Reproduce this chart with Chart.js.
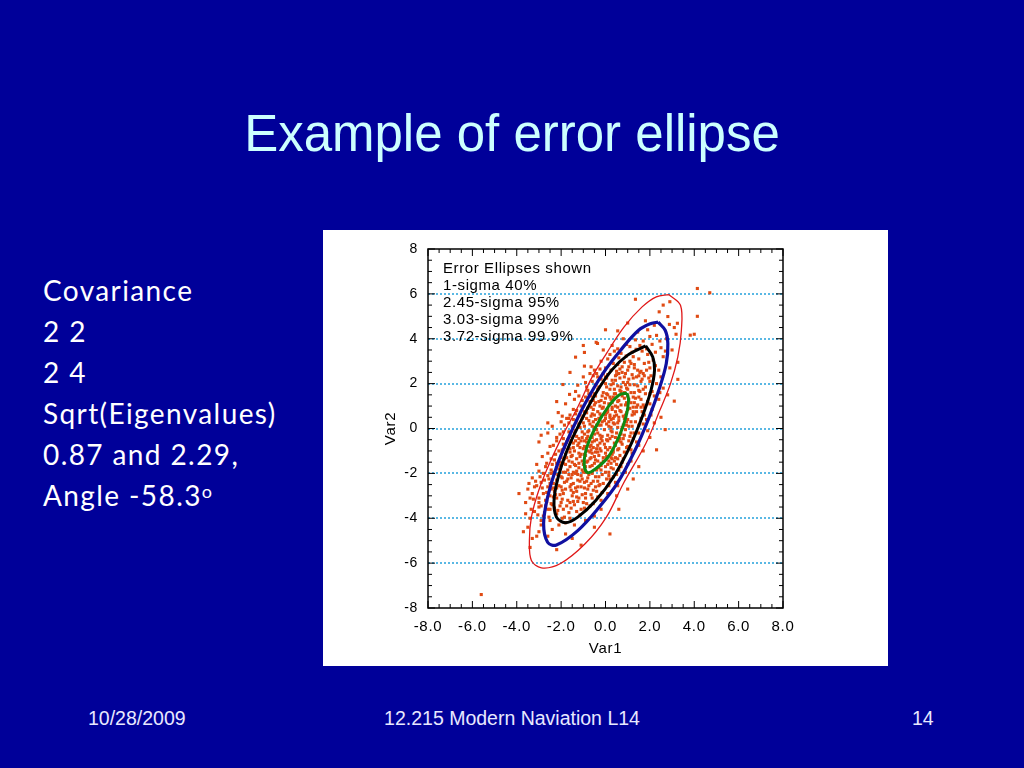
<!DOCTYPE html>
<html>
<head>
<meta charset="utf-8">
<script src="https://cdn.jsdelivr.net/npm/chart.js@4/dist/chart.umd.min.js"></script>
<style>
  html, body { margin:0; padding:0; }
  body { width:1024px; height:768px; background:#000099; position:relative; overflow:hidden; font-family:"Liberation Sans", Arial, sans-serif; }
  #title { position:absolute; left:0; top:104px; width:1024px; text-align:center; color:#CCFFFF; font-size:51px; line-height:60px; }
  #side { position:absolute; left:43px; top:270px; color:#FFFFFF; font-family:Lato, "Open Sans", sans-serif; font-size:28px; letter-spacing:1.4px; line-height:41px; }
  #side sup { font-size:18px; vertical-align:top; position:relative; top:-4px; letter-spacing:0; }
  #panel { position:absolute; left:323px; top:230px; width:565px; height:436px; background:#FFFFFF; }
  .foot { position:absolute; top:706px; color:#E8E8FF; font-size:19.5px; line-height:24px; }
</style>
</head>
<body>
<div id="title">Example of error ellipse</div>
<div id="side">Covariance<br>2 2<br>2 4<br>Sqrt(Eigenvalues)<br>0.87 and 2.29,<br>Angle -58.3<sup>o</sup></div>
<div id="panel"><canvas id="c"></canvas></div>
<div class="foot" style="left:88px;">10/28/2009</div>
<div class="foot" style="left:0; width:1024px; text-align:center;">12.215 Modern Naviation L14</div>
<div class="foot" style="left:912px;">14</div>
<script>
// ---- data (Var1, Var2) ----
const samplePoints = [
  [-5.6,-7.4],[-3.4,-5.3],[-3.3,-4.9],[-2.2,-5.4],[-1.1,-5.2],[0.2,-4.7],[-3.0,-4.6],[-2.6,-4.8],[-3.5,-4.4],[-2.9,-4.3],[-1.8,-4.7],[-2.4,-4.5],[-1.5,-4.9],
  [-3.4,-4.0],[-3.2,-3.7],[-2.8,-3.9],[-2.5,-4.1],[-2.2,-3.8],[-1.9,-3.6],[-1.6,-4.0],[-1.3,-3.7],[-2.6,-3.6],[-3.0,-3.5],[-2.1,-4.3],[-0.9,-4.1],[-0.5,-3.9],[-1.1,-3.6],[-3.6,-3.8],[-2.3,-3.55],[-1.8,-4.2],[-0.2,-3.6],[-2.9,-4.1],[-1.4,-4.3],
  [-3.9,-2.9],[-3.5,-2.7],[-3.4,-3.1],[-3.2,-2.6],[-3.0,-3.3],[-2.8,-2.9],[-2.7,-3.2],[-2.6,-2.6],[-2.5,-3.0],[-2.4,-3.4],[-2.3,-2.8],[-2.2,-3.1],[-2.1,-2.55],[-2.0,-3.3],[-1.9,-2.9],[-1.8,-2.7],[-1.7,-3.2],[-1.6,-2.6],[-1.5,-3.0],[-1.4,-3.4],[-1.3,-2.8],[-1.2,-3.1],[-1.1,-2.6],[-1.0,-3.3],[-0.9,-2.9],[-0.8,-2.7],[-0.6,-3.1],[-0.4,-2.8],[-0.2,-3.2],[0.1,-2.9],[0.5,-3.0],[-3.1,-2.55],[-2.9,-3.45],[-1.75,-3.45],[-0.7,-3.45],[-2.45,-2.7],[-1.55,-2.75],[-0.3,-2.55],[-3.6,-3.3],[-2.05,-2.95],
  [-3.3,-2.2],[-3.0,-1.9],[-2.9,-2.4],[-2.7,-1.7],[-2.6,-2.1],[-2.5,-2.45],[-2.4,-1.6],[-2.3,-2.0],[-2.2,-2.3],[-2.1,-1.8],[-2.0,-2.15],[-1.9,-1.55],[-1.85,-2.4],[-1.8,-1.95],[-1.7,-2.25],[-1.6,-1.7],[-1.5,-2.05],[-1.45,-2.45],[-1.4,-1.6],[-1.3,-1.9],[-1.25,-2.3],[-1.2,-1.75],[-1.1,-2.1],[-1.0,-1.6],[-0.95,-2.4],[-0.9,-1.95],[-0.8,-2.2],[-0.7,-1.7],[-0.6,-2.0],[-0.55,-2.35],[-0.5,-1.55],[-0.4,-1.85],[-0.3,-2.15],[-0.2,-1.65],[-0.1,-2.45],[0.0,-1.95],[0.1,-1.6],[0.2,-2.25],[0.35,-1.8],[0.5,-2.05],[0.7,-1.7],[0.9,-1.95],[1.25,-2.25],[-2.75,-2.3],[-2.05,-1.5],[-1.55,-2.5],[-0.85,-1.5],[-0.25,-2.5],[0.45,-2.4],[-3.1,-1.6],[-1.35,-2.0],[-0.65,-2.45],[-2.35,-2.45],[-1.05,-1.85],[0.25,-1.55],
  [-3.0,-0.6],[-2.6,-1.1],[-2.5,-0.8],[-2.3,-1.4],[-2.2,-0.55],[-2.1,-1.0],[-2.0,-1.3],[-1.9,-0.7],[-1.8,-1.15],[-1.7,-0.5],[-1.65,-1.45],[-1.6,-0.9],[-1.5,-1.2],[-1.45,-0.65],[-1.4,-1.0],[-1.3,-1.35],[-1.25,-0.75],[-1.2,-1.1],[-1.1,-0.55],[-1.05,-1.45],[-1.0,-0.9],[-0.9,-1.2],[-0.85,-0.6],[-0.8,-1.0],[-0.7,-1.35],[-0.65,-0.75],[-0.6,-1.1],[-0.5,-0.55],[-0.45,-1.4],[-0.4,-0.9],[-0.3,-1.2],[-0.25,-0.65],[-0.2,-1.0],[-0.1,-1.3],[-0.05,-0.7],[0.0,-1.1],[0.1,-0.55],[0.15,-1.45],[0.2,-0.85],[0.3,-1.15],[0.4,-0.65],[0.45,-1.3],[0.55,-0.95],[0.65,-1.2],[0.75,-0.7],[0.85,-1.05],[1.0,-0.8],[1.2,-1.1],[1.4,-0.6],[1.7,-1.0],[2.3,-0.95],[-2.45,-1.35],[-1.95,-0.95],[-1.35,-0.55],[-0.95,-0.8],[-0.35,-1.45],[0.25,-1.3],[0.6,-0.55],[-1.75,-1.3],[-0.55,-0.85],
  [-2.9,-0.3],[-2.4,0.1],[-2.2,-0.4],[-2.0,0.3],[-1.9,-0.15],[-1.75,0.45],[-1.6,-0.35],[-1.5,0.1],[-1.4,-0.2],[-1.3,0.35],[-1.2,-0.45],[-1.15,0.05],[-1.0,0.25],[-0.95,-0.25],[-0.85,0.45],[-0.75,-0.1],[-0.7,0.2],[-0.6,-0.4],[-0.5,0.05],[-0.45,0.4],[-0.35,-0.2],[-0.3,0.15],[-0.2,-0.45],[-0.15,0.3],[-0.05,-0.05],[0.0,0.45],[0.1,-0.3],[0.15,0.1],[0.25,0.4],[0.3,-0.15],[0.4,0.2],[0.45,-0.4],[0.55,0.05],[0.6,0.35],[0.7,-0.25],[0.8,0.15],[0.9,-0.05],[1.0,0.4],[1.1,-0.35],[1.2,0.1],[1.35,0.3],[1.5,-0.2],[1.7,0.2],[1.9,-0.1],[2.69,-0.05],[-2.6,0.25],[-1.85,0.15],[-1.05,-0.4],[-0.55,0.3],[0.05,0.2],[0.65,-0.45],[1.25,-0.45],[-1.45,0.4],[-0.25,-0.3],[0.35,0.45],[0.95,0.3],[-0.8,-0.35],[1.6,0.45],
  [-2.13,0.71],[-1.8,1.1],[-1.6,0.6],[-1.4,1.3],[-1.3,0.8],[-1.1,1.0],[-1.0,0.55],[-0.9,1.4],[-0.8,0.9],[-0.7,1.2],[-0.6,0.65],[-0.5,1.05],[-0.45,1.45],[-0.35,0.75],[-0.3,1.2],[-0.2,0.55],[-0.1,0.95],[0.0,1.35],[0.05,0.7],[0.15,1.1],[0.2,0.5],[0.3,0.85],[0.35,1.4],[0.45,1.0],[0.5,0.6],[0.6,1.25],[0.65,0.8],[0.75,1.45],[0.8,0.55],[0.9,1.05],[0.95,0.7],[1.05,1.3],[1.1,0.9],[1.2,0.6],[1.3,1.15],[1.4,0.75],[1.5,1.4],[1.6,0.95],[1.75,0.6],[1.9,1.2],[2.1,0.85],[2.4,1.3],[3.1,1.22],[-1.62,1.52],[-1.15,0.6],[-0.65,0.95],[-0.15,1.45],[0.25,1.3],[0.55,0.95],[1.0,1.45],[1.45,1.05],[-0.85,0.7],[0.1,0.85],[0.7,1.05],[1.25,0.95],
  [-1.92,1.96],[-1.25,1.93],[-1.0,2.3],[-0.8,1.7],[-0.6,2.1],[-0.5,1.55],[-0.4,2.45],[-0.3,1.85],[-0.2,2.2],[-0.1,1.6],[0.0,2.0],[0.1,2.4],[0.2,1.75],[0.3,2.15],[0.4,1.55],[0.45,2.35],[0.55,1.9],[0.65,2.25],[0.7,1.65],[0.8,2.05],[0.9,2.45],[0.95,1.8],[1.05,2.2],[1.15,1.6],[1.2,2.4],[1.3,1.95],[1.4,2.3],[1.5,1.7],[1.6,2.1],[1.7,2.45],[1.8,1.85],[1.95,2.25],[2.1,1.65],[2.3,2.0],[2.6,1.8],[3.26,2.19],[-0.7,2.45],[0.05,1.55],[0.6,2.45],[1.1,1.95],[1.55,2.5],[2.0,1.55],[-0.45,1.95],[0.35,2.0],[0.85,1.6],
  [-1.35,3.18],[-0.95,2.78],[-0.95,3.39],[-0.5,2.6],[-0.2,3.0],[0.0,2.7],[0.2,3.3],[0.35,2.9],[0.5,2.55],[0.6,3.15],[0.75,2.75],[0.93,3.23],[1.0,2.6],[1.1,3.0],[1.2,3.4],[1.38,3.53],[1.3,2.7],[1.5,3.1],[1.6,2.55],[1.75,2.9],[1.9,3.3],[2.0,2.7],[2.15,3.05],[2.4,2.6],[2.6,3.2],[3.26,2.95],[2.9,2.7],[0.4,3.45],[1.65,3.45],[0.85,2.95],
  [-0.42,3.84],[-0.36,3.79],[0.3,3.7],[0.8,4.0],[1.1,3.65],[1.45,4.3],[1.7,3.9],[1.9,4.4],[2.1,3.75],[2.3,4.15],[2.5,3.6],[2.75,4.0],[3.1,4.5],[3.18,4.2],[4.0,4.2],[3.82,4.16],[0.55,4.35],[2.0,4.1],
  [1.35,5.76],[2.81,4.99],[2.88,4.64],[3.24,4.69],[4.14,5.0],[2.42,5.2],[2.9,5.65],[4.14,6.24],[4.7,6.05],[1.8,4.8],[2.2,4.6],[2.6,5.5],
  [-2.75,-3.75],[-2.45,-3.35],[-2.15,-3.65],[-1.95,-3.15],[-1.65,-3.75],[-1.45,-3.25],[-1.15,-3.85],[-0.85,-3.35],[-2.55,-3.95],[-2.05,-3.45],[-3.25,-3.15],[-3.35,-3.6],[-1.25,-3.25],[-0.55,-3.35],[-2.35,-3.05],[-1.85,-3.95],[-3.05,-3.85],[-2.65,-3.25],[-0.35,-3.05],[-1.55,-3.55],
  [-3.15,-2.35],[-2.85,-2.65],[-2.55,-2.25],[-2.35,-2.65],[-2.15,-2.05],[-1.95,-2.75],[-1.75,-2.35],[-1.65,-2.05],[-1.35,-2.65],[-1.15,-2.35],[-0.95,-2.65],[-0.75,-2.05],[-0.55,-2.75],[-0.35,-2.35],[-0.15,-2.85],[0.15,-2.55],[0.35,-2.15],[-2.65,-2.85],[-1.25,-2.05],[-0.45,-2.15],[-1.95,-2.2],[-2.25,-2.95],[-0.85,-2.35],[0.05,-2.25],[-1.45,-2.85],[-3.45,-2.45],[-2.95,-2.15],[-0.65,-2.95],[-1.05,-2.95],[0.55,-2.55],
  [-2.85,-1.25],[-2.65,-1.55],[-2.45,-1.85],[-2.25,-1.15],[-2.05,-1.65],[-1.85,-1.35],[-1.7,-1.85],[-1.55,-1.25],[-1.35,-1.65],[-1.15,-1.25],[-1.0,-1.95],[-0.8,-1.45],[-0.6,-1.65],[-0.45,-1.05],[-0.3,-1.75],[-0.1,-1.45],[0.05,-1.25],[0.25,-1.75],[0.4,-1.45],[0.6,-1.85],[0.8,-1.35],[1.0,-1.6],[-1.9,-1.95],[-1.45,-1.95],[-0.7,-1.05],[-0.2,-1.85],[0.35,-1.05],[-1.2,-1.55],[-2.35,-1.95],[0.15,-1.95],[-0.95,-1.15],[-1.6,-1.05],[0.55,-1.35],[1.15,-1.45],[-0.5,-1.25],
  [-2.35,-0.75],[-2.05,-0.25],[-1.85,-0.85],[-1.65,-0.15],[-1.45,-0.85],[-1.3,-0.35],[-1.15,-0.85],[-0.95,-0.55],[-0.8,-0.15],[-0.65,-0.95],[-0.5,-0.25],[-0.35,-0.75],[-0.15,-0.35],[0.0,-0.85],[0.2,-0.45],[0.35,-0.95],[0.5,-0.2],[0.7,-0.6],[0.85,-0.3],[1.05,-0.55],[1.3,-0.2],[1.5,-0.75],[-0.25,-0.9],[0.3,-0.35],[-1.05,-0.15],[-0.6,-0.6],[0.95,-0.85],[-1.75,-0.6],[0.05,-0.5],[1.15,-0.95],[-0.4,-0.05],[0.6,-0.9],
  [-1.95,0.55],[-1.65,0.25],[-1.35,0.65],[-1.2,0.2],[-0.95,0.75],[-0.75,0.35],[-0.55,0.85],[-0.4,0.15],[-0.25,0.65],[-0.05,0.35],[0.1,0.75],[0.25,0.05],[0.4,0.55],[0.55,0.25],[0.7,0.75],[0.85,0.45],[1.0,0.85],[1.15,0.3],[1.3,0.65],[1.5,0.15],[1.65,0.75],[1.85,0.4],[2.05,0.6],[-0.15,0.9],[0.3,0.95],[0.75,0.05],[1.4,0.95],[-1.05,0.45],[-0.6,0.1],[0.2,0.6],[0.95,0.15],[1.75,0.95],[2.2,0.25],[-0.3,0.45],
  [-1.35,1.65],[-1.05,1.25],[-0.85,1.85],[-0.65,1.45],[-0.35,1.75],[-0.2,1.25],[0.05,1.85],[0.2,1.4],[0.4,1.75],[0.55,1.2],[0.7,1.85],[0.85,1.35],[1.0,1.75],[1.15,1.15],[1.3,1.6],[1.45,1.9],[1.6,1.3],[1.8,1.55],[2.0,1.1],[2.2,1.45],[-0.55,1.25],[0.25,1.95],[0.9,1.95],[1.7,1.75],[-0.05,1.15],[1.25,1.4],[2.45,1.6],
  [-0.9,2.05],[-0.55,2.35],[-0.25,2.65],[0.05,2.25],[0.25,2.6],[0.45,2.15],[0.65,2.65],[0.85,2.3],[1.05,2.75],[1.25,2.25],[1.45,2.6],[1.65,2.2],[1.85,2.6],[2.05,2.35],[2.25,2.8],[1.15,2.9],[0.55,2.85],[1.95,2.95],[2.5,2.3],[-0.1,2.45],
  [0.1,3.1],[0.55,3.55],[0.95,3.75],[1.25,3.2],[1.55,3.7],[1.85,3.55],[2.25,3.4],[2.45,3.9],[0.7,3.35],[1.35,3.95],[2.7,3.45],[-0.1,3.5],
  [-3.7,-4.6],[-3.1,-4.8],[-0.5,-4.4],[0.6,-3.6],[1.0,-2.7],[1.5,-1.7],[2.0,-0.4],[2.5,0.5],[2.8,1.5],[3.0,3.5],[-2.6,-0.2],[-2.2,1.2],[-1.6,2.5],[-1.0,3.7],[0.0,4.4],[1.0,4.7],
  [-1.05,-2.25],[-0.75,-2.55],[-0.45,-2.6],[-0.15,-2.05],[0.15,-2.1],[-1.55,-2.2],[-1.25,-2.6],[-0.9,-3.1],[-1.6,-3.3],[-2.0,-2.6],
  [-0.2,-1.55],[0.5,-1.6],[-0.65,-1.3],[-0.9,-1.7],[-1.5,-1.5],[-1.1,-1.15],[0.0,-1.7],[0.3,-1.35],[-0.35,-1.05],[0.75,-1.5],[-1.8,-1.6],[-2.2,-1.55],
  [-0.85,-0.45],[-0.15,-0.55],[0.45,-0.75],[0.25,-0.1],[-0.4,-0.5],[-1.2,-0.65],[-1.55,-0.55],[0.8,-0.45],[1.15,-0.2],[-0.7,-0.8],[0.1,-0.95],[-1.35,-0.1],[-1.9,-0.45],
  [-0.95,0.1],[-0.5,0.6],[0.0,0.6],[0.45,0.75],[0.9,0.6],[0.6,0.5],[-0.2,0.15],[0.35,0.25],[-0.65,0.55],[1.05,0.1],[1.25,0.75],[-1.45,0.85],[-1.65,0.45],[0.15,0.3],
  [-0.75,1.55],[-0.25,1.0],[0.3,1.15],[0.45,1.55],[0.95,1.15],[1.35,1.35],[-1.2,1.45],[0.65,1.7],[-0.45,1.15],[1.7,1.05],[1.55,1.65],[0.1,1.5],
  [0.0,2.3],[0.5,2.4],[1.0,2.05],[1.5,2.35],[-0.35,2.3],[0.75,2.5],[1.3,2.85],[1.75,2.35],[-0.65,2.75],[2.0,2.1],
  [-2.5,-3.6],[-1.95,-4.0],[-3.0,-3.1],[-2.2,-2.65],[-2.8,-2.0],[-1.3,-3.05],[-0.95,-3.55],[-2.45,-2.0],[-3.3,-2.9],[-2.7,-3.45]
];
// ellipse outlines
const ellipse1Sigma = [[0.97,1.58],[1.04,1.26],[0.92,0.51],[0.6,-0.38],[0.12,-1.27],[-0.44,-1.79],[-0.81,-1.97],[-0.96,-1.57],[-0.84,-0.83],[-0.44,0.07],[0.12,0.96],[0.6,1.48],[0.97,1.58]];
const ellipse245Sigma = [[1.81,3.68],[2.13,3.19],[2.21,2.6],[2.05,1.7],[1.65,0.51],[1.09,-0.83],[0.36,-2.16],[-0.44,-3.21],[-1.25,-3.95],[-1.81,-4.2],[-2.21,-3.95],[-2.32,-3.21],[-2.13,-2.16],[-1.73,-0.97],[-1.17,0.22],[-0.44,1.56],[0.28,2.6],[1.0,3.27],[1.81,3.68]];
const ellipse303Sigma = [[2.37,4.74],[2.69,4.38],[2.81,3.79],[2.74,2.9],[2.45,1.85],[1.97,0.51],[1.33,-0.97],[0.52,-2.46],[-0.28,-3.5],[-1.25,-4.55],[-2.21,-5.19],[-2.61,-5.07],[-2.79,-4.25],[-2.61,-3.06],[-2.21,-1.72],[-1.65,-0.38],[-0.92,1.11],[-0.12,2.45],[0.68,3.49],[1.49,4.38],[2.05,4.68],[2.37,4.74]];
const ellipse372Sigma = [[2.85,5.97],[3.38,5.49],[3.42,4.38],[3.26,3.19],[2.93,2.0],[2.45,0.81],[1.81,-0.68],[0.8,-2.46],[0.04,-3.95],[-0.92,-5.14],[-2.05,-6.03],[-2.89,-6.21],[-3.34,-5.88],[-3.43,-4.99],[-3.34,-3.95],[-3.01,-2.76],[-2.53,-1.57],[-1.89,-0.23],[-1.25,0.96],[-0.6,2.3],[0.04,3.34],[0.84,4.53],[1.65,5.42],[2.29,5.87],[2.85,5.97]];
const legendLines = ["Error Ellipses shown","1-sigma 40%","2.45-sigma 95%","3.03-sigma 99%","3.72-sigma 99.9%"];
const axisMin = -8, axisMax = 8, tickStep = 2, minorStep = 0.5;

const toXY = arr => arr.map(p => ({x:p[0], y:p[1]}));
const lineDs = (arr, color, w) => ({ data: toXY(arr), showLine:true, borderColor:color, borderWidth:w, pointRadius:0, tension:0.35, fill:false, order:1 });
const FONT = '"Liberation Sans", Arial, sans-serif';

const spacing = {
  id:'spacing',
  beforeDraw(chart) { chart.ctx.letterSpacing = '0.7px'; }
};

const frameAndTicks = {
  id:'frameAndTicks',
  afterDatasetsDraw(chart) {
    const {ctx, chartArea:a, scales:{x, y}} = chart;
    ctx.save();
    ctx.strokeStyle = '#000'; ctx.lineWidth = 1.5;
    ctx.strokeRect(a.left, a.top, a.right - a.left, a.bottom - a.top);
    ctx.lineWidth = 1;
    ctx.beginPath();
    for (let v = axisMin; v <= axisMax + 1e-9; v += minorStep) {
      const len = (Math.abs(v % tickStep) < 1e-9) ? 7 : 4;
      const px = x.getPixelForValue(v), py = y.getPixelForValue(v);
      ctx.moveTo(px, a.bottom); ctx.lineTo(px, a.bottom - len);
      ctx.moveTo(px, a.top); ctx.lineTo(px, a.top + len);
      ctx.moveTo(a.left, py); ctx.lineTo(a.left + len, py);
      ctx.moveTo(a.right, py); ctx.lineTo(a.right - len, py);
    }
    ctx.stroke();
    ctx.fillStyle = '#000';
    ctx.font = '15px ' + FONT;
    ctx.letterSpacing = '0.6px';
    ctx.textBaseline = 'middle';
    legendLines.forEach((t, i) => ctx.fillText(t, a.left + 15, a.top + 20 + i * 17));
    ctx.restore();
  }
};

new Chart(document.getElementById('c'), {
  type:'scatter',
  data:{ datasets:[
    lineDs(ellipse1Sigma, '#0E8A12', 3),
    lineDs(ellipse245Sigma, '#000000', 3),
    lineDs(ellipse303Sigma, '#1010A0', 3.2),
    lineDs(ellipse372Sigma, '#E01818', 1.3),
    { data: toXY(samplePoints), pointStyle:'rect', pointRadius:2.2, backgroundColor:'#E04B14', borderWidth:0, order:2 }
  ]},
  plugins:[spacing, frameAndTicks],
  options:{
    responsive:true, maintainAspectRatio:false, animation:false,
    layout:{ padding:{ left:55, right:105, top:19, bottom:6 } },
    plugins:{ legend:{display:false}, tooltip:{enabled:false} },
    scales:{
      x:{ type:'linear', min:axisMin, max:axisMax,
          afterFit(s){ s.height = 52; },
          ticks:{ stepSize:tickStep, color:'#000', padding:10, maxRotation:0,
                  font:{ family:FONT, size:15 },
                  callback:v => v.toFixed(1) },
          grid:{ display:false, drawTicks:false }, border:{ display:false },
          title:{ display:true, text:'Var1', color:'#000', padding:{top:2,bottom:2},
                  font:{ family:FONT, size:15 } } },
      y:{ type:'linear', min:axisMin, max:axisMax,
          afterFit(s){ s.width = 50; },
          ticks:{ stepSize:tickStep, color:'#000', padding:10,
                  font:{ family:FONT, size:14 } },
          grid:{ drawTicks:false, lineWidth:2,
                 color:c => (c.tick && Math.abs(c.tick.value) === 8) ? 'rgba(0,0,0,0)' : '#5AB8E4' },
          border:{ display:false, dash:[2,2] },
          title:{ display:true, text:'Var2', color:'#000', padding:{top:4,bottom:4},
                  font:{ family:FONT, size:15 } } }
    }
  }
});
</script>
</body>
</html>
